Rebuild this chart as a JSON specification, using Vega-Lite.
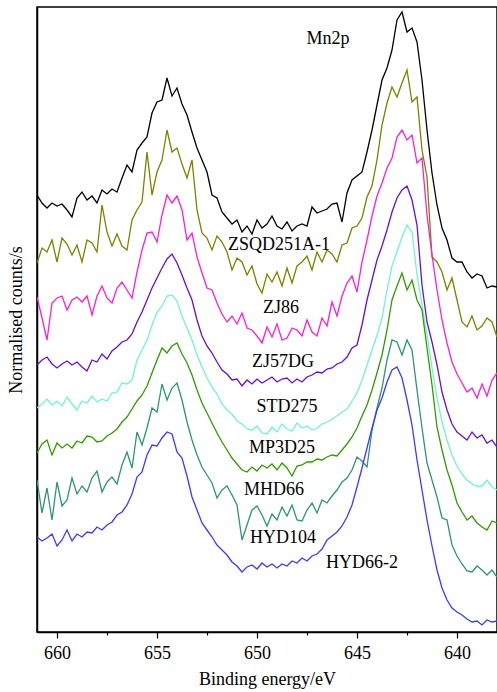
{
"$schema": "https://vega.github.io/schema/vega-lite/v6.json",
"width": 460, "height": 625,
"autosize": {"type": "none"},
"padding": {"left": 37, "top": 7, "right": 0, "bottom": 60},
"background": "white",
"config": {"view": {"stroke": "black", "strokeWidth": 1.5}, "font": "Liberation Serif"},
"datasets": {
"spectra": [
{"s":"ZSQD251A-1","e":661,"c":437},{"s":"ZSQD251A-1","e":660.75,"c":429},{"s":"ZSQD251A-1","e":660.5,"c":424},{"s":"ZSQD251A-1","e":660.25,"c":429},{"s":"ZSQD251A-1","e":660,"c":426},{"s":"ZSQD251A-1","e":659.75,"c":428},{"s":"ZSQD251A-1","e":659.5,"c":422},{"s":"ZSQD251A-1","e":659.25,"c":415},{"s":"ZSQD251A-1","e":659,"c":434},{"s":"ZSQD251A-1","e":658.75,"c":440},
{"s":"ZSQD251A-1","e":658.5,"c":432},{"s":"ZSQD251A-1","e":658.25,"c":436},{"s":"ZSQD251A-1","e":658,"c":429},{"s":"ZSQD251A-1","e":657.75,"c":442},{"s":"ZSQD251A-1","e":657.5,"c":438},{"s":"ZSQD251A-1","e":657.25,"c":443},{"s":"ZSQD251A-1","e":657,"c":440},{"s":"ZSQD251A-1","e":656.75,"c":454},{"s":"ZSQD251A-1","e":656.5,"c":467},{"s":"ZSQD251A-1","e":656.25,"c":460},
{"s":"ZSQD251A-1","e":656,"c":482},{"s":"ZSQD251A-1","e":655.75,"c":489},{"s":"ZSQD251A-1","e":655.5,"c":495},{"s":"ZSQD251A-1","e":655.25,"c":519},{"s":"ZSQD251A-1","e":655,"c":530},{"s":"ZSQD251A-1","e":654.75,"c":532},{"s":"ZSQD251A-1","e":654.5,"c":554},{"s":"ZSQD251A-1","e":654.25,"c":536},{"s":"ZSQD251A-1","e":654,"c":544},{"s":"ZSQD251A-1","e":653.75,"c":528},
{"s":"ZSQD251A-1","e":653.5,"c":517},{"s":"ZSQD251A-1","e":653.25,"c":500},{"s":"ZSQD251A-1","e":653,"c":484},{"s":"ZSQD251A-1","e":652.75,"c":472},{"s":"ZSQD251A-1","e":652.5,"c":460},{"s":"ZSQD251A-1","e":652.25,"c":437},{"s":"ZSQD251A-1","e":652,"c":434},{"s":"ZSQD251A-1","e":651.75,"c":420},{"s":"ZSQD251A-1","e":651.5,"c":414},{"s":"ZSQD251A-1","e":651.25,"c":408},
{"s":"ZSQD251A-1","e":651,"c":412},{"s":"ZSQD251A-1","e":650.75,"c":400},{"s":"ZSQD251A-1","e":650.5,"c":406},{"s":"ZSQD251A-1","e":650.25,"c":398},{"s":"ZSQD251A-1","e":650,"c":412},{"s":"ZSQD251A-1","e":649.75,"c":404},{"s":"ZSQD251A-1","e":649.5,"c":408},{"s":"ZSQD251A-1","e":649.25,"c":416},{"s":"ZSQD251A-1","e":649,"c":406},{"s":"ZSQD251A-1","e":648.75,"c":403},
{"s":"ZSQD251A-1","e":648.5,"c":410},{"s":"ZSQD251A-1","e":648.25,"c":401},{"s":"ZSQD251A-1","e":648,"c":406},{"s":"ZSQD251A-1","e":647.75,"c":408},{"s":"ZSQD251A-1","e":647.5,"c":406},{"s":"ZSQD251A-1","e":647.25,"c":425},{"s":"ZSQD251A-1","e":647,"c":419},{"s":"ZSQD251A-1","e":646.75,"c":421},{"s":"ZSQD251A-1","e":646.5,"c":423},{"s":"ZSQD251A-1","e":646.25,"c":428},
{"s":"ZSQD251A-1","e":646,"c":429},{"s":"ZSQD251A-1","e":645.75,"c":410},{"s":"ZSQD251A-1","e":645.5,"c":439},{"s":"ZSQD251A-1","e":645.25,"c":452},{"s":"ZSQD251A-1","e":645,"c":456},{"s":"ZSQD251A-1","e":644.75,"c":460},{"s":"ZSQD251A-1","e":644.5,"c":480},{"s":"ZSQD251A-1","e":644.25,"c":502},{"s":"ZSQD251A-1","e":644,"c":527},{"s":"ZSQD251A-1","e":643.75,"c":552},
{"s":"ZSQD251A-1","e":643.5,"c":564},{"s":"ZSQD251A-1","e":643.25,"c":582},{"s":"ZSQD251A-1","e":643,"c":612},{"s":"ZSQD251A-1","e":642.75,"c":620},{"s":"ZSQD251A-1","e":642.5,"c":600},{"s":"ZSQD251A-1","e":642.25,"c":604},{"s":"ZSQD251A-1","e":642,"c":590},{"s":"ZSQD251A-1","e":641.75,"c":552},{"s":"ZSQD251A-1","e":641.5,"c":502},{"s":"ZSQD251A-1","e":641.25,"c":459},
{"s":"ZSQD251A-1","e":641,"c":427},{"s":"ZSQD251A-1","e":640.75,"c":404},{"s":"ZSQD251A-1","e":640.5,"c":392},{"s":"ZSQD251A-1","e":640.25,"c":374},{"s":"ZSQD251A-1","e":640,"c":370},{"s":"ZSQD251A-1","e":639.75,"c":370},{"s":"ZSQD251A-1","e":639.5,"c":360},{"s":"ZSQD251A-1","e":639.25,"c":354},{"s":"ZSQD251A-1","e":639,"c":358},{"s":"ZSQD251A-1","e":638.75,"c":356},
{"s":"ZSQD251A-1","e":638.5,"c":344},{"s":"ZSQD251A-1","e":638.25,"c":346},{"s":"ZSQD251A-1","e":638,"c":345},

{"s":"ZJ86","e":661,"c":369},{"s":"ZJ86","e":660.75,"c":384},{"s":"ZJ86","e":660.5,"c":380},{"s":"ZJ86","e":660.25,"c":392},{"s":"ZJ86","e":660,"c":370},{"s":"ZJ86","e":659.75,"c":394},{"s":"ZJ86","e":659.5,"c":388},{"s":"ZJ86","e":659.25,"c":377},{"s":"ZJ86","e":659,"c":387},{"s":"ZJ86","e":658.75,"c":370},
{"s":"ZJ86","e":658.5,"c":392},{"s":"ZJ86","e":658.25,"c":389},{"s":"ZJ86","e":658,"c":380},{"s":"ZJ86","e":657.75,"c":427},{"s":"ZJ86","e":657.5,"c":400},{"s":"ZJ86","e":657.25,"c":386},{"s":"ZJ86","e":657,"c":398},{"s":"ZJ86","e":656.75,"c":386},{"s":"ZJ86","e":656.5,"c":382},{"s":"ZJ86","e":656.25,"c":412},
{"s":"ZJ86","e":656,"c":422},{"s":"ZJ86","e":655.75,"c":430},{"s":"ZJ86","e":655.5,"c":480},{"s":"ZJ86","e":655.25,"c":437},{"s":"ZJ86","e":655,"c":460},{"s":"ZJ86","e":654.75,"c":472},{"s":"ZJ86","e":654.5,"c":502},{"s":"ZJ86","e":654.25,"c":480},{"s":"ZJ86","e":654,"c":484},{"s":"ZJ86","e":653.75,"c":468},
{"s":"ZJ86","e":653.5,"c":454},{"s":"ZJ86","e":653.25,"c":472},{"s":"ZJ86","e":653,"c":422},{"s":"ZJ86","e":652.75,"c":399},{"s":"ZJ86","e":652.5,"c":394},{"s":"ZJ86","e":652.25,"c":382},{"s":"ZJ86","e":652,"c":396},{"s":"ZJ86","e":651.75,"c":390},{"s":"ZJ86","e":651.5,"c":380},{"s":"ZJ86","e":651.25,"c":362},
{"s":"ZJ86","e":651,"c":374},{"s":"ZJ86","e":650.75,"c":370},{"s":"ZJ86","e":650.5,"c":357},{"s":"ZJ86","e":650.25,"c":366},{"s":"ZJ86","e":650,"c":348},{"s":"ZJ86","e":649.75,"c":339},{"s":"ZJ86","e":649.5,"c":358},{"s":"ZJ86","e":649.25,"c":350},{"s":"ZJ86","e":649,"c":360},{"s":"ZJ86","e":648.75,"c":346},
{"s":"ZJ86","e":648.5,"c":364},{"s":"ZJ86","e":648.25,"c":349},{"s":"ZJ86","e":648,"c":366},{"s":"ZJ86","e":647.75,"c":370},{"s":"ZJ86","e":647.5,"c":376},{"s":"ZJ86","e":647.25,"c":362},{"s":"ZJ86","e":647,"c":380},{"s":"ZJ86","e":646.75,"c":370},{"s":"ZJ86","e":646.5,"c":382},{"s":"ZJ86","e":646.25,"c":378},
{"s":"ZJ86","e":646,"c":370},{"s":"ZJ86","e":645.75,"c":387},{"s":"ZJ86","e":645.5,"c":389},{"s":"ZJ86","e":645.25,"c":404},{"s":"ZJ86","e":645,"c":406},{"s":"ZJ86","e":644.75,"c":414},{"s":"ZJ86","e":644.5,"c":435},{"s":"ZJ86","e":644.25,"c":446},{"s":"ZJ86","e":644,"c":472},{"s":"ZJ86","e":643.75,"c":507},
{"s":"ZJ86","e":643.5,"c":529},{"s":"ZJ86","e":643.25,"c":545},{"s":"ZJ86","e":643,"c":535},{"s":"ZJ86","e":642.75,"c":549},{"s":"ZJ86","e":642.5,"c":562},{"s":"ZJ86","e":642.25,"c":530},{"s":"ZJ86","e":642,"c":535},{"s":"ZJ86","e":641.75,"c":482},{"s":"ZJ86","e":641.5,"c":455},{"s":"ZJ86","e":641.25,"c":375},
{"s":"ZJ86","e":641,"c":370},{"s":"ZJ86","e":640.75,"c":360},{"s":"ZJ86","e":640.5,"c":342},{"s":"ZJ86","e":640.25,"c":354},{"s":"ZJ86","e":640,"c":332},{"s":"ZJ86","e":639.75,"c":310},{"s":"ZJ86","e":639.5,"c":305},{"s":"ZJ86","e":639.25,"c":316},{"s":"ZJ86","e":639,"c":302},{"s":"ZJ86","e":638.75,"c":306},
{"s":"ZJ86","e":638.5,"c":314},{"s":"ZJ86","e":638.25,"c":310},{"s":"ZJ86","e":638,"c":295},

{"s":"ZJ57DG","e":661,"c":335},{"s":"ZJ57DG","e":660.75,"c":314},{"s":"ZJ57DG","e":660.5,"c":292},{"s":"ZJ57DG","e":660.25,"c":329},{"s":"ZJ57DG","e":660,"c":334},{"s":"ZJ57DG","e":659.75,"c":336},{"s":"ZJ57DG","e":659.5,"c":322},{"s":"ZJ57DG","e":659.25,"c":332},{"s":"ZJ57DG","e":659,"c":335},{"s":"ZJ57DG","e":658.75,"c":330},
{"s":"ZJ57DG","e":658.5,"c":336},{"s":"ZJ57DG","e":658.25,"c":317},{"s":"ZJ57DG","e":658,"c":336},{"s":"ZJ57DG","e":657.75,"c":346},{"s":"ZJ57DG","e":657.5,"c":334},{"s":"ZJ57DG","e":657.25,"c":329},{"s":"ZJ57DG","e":657,"c":344},{"s":"ZJ57DG","e":656.75,"c":350},{"s":"ZJ57DG","e":656.5,"c":342},{"s":"ZJ57DG","e":656.25,"c":334},
{"s":"ZJ57DG","e":656,"c":360},{"s":"ZJ57DG","e":655.75,"c":382},{"s":"ZJ57DG","e":655.5,"c":399},{"s":"ZJ57DG","e":655.25,"c":400},{"s":"ZJ57DG","e":655,"c":390},{"s":"ZJ57DG","e":654.75,"c":417},{"s":"ZJ57DG","e":654.5,"c":437},{"s":"ZJ57DG","e":654.25,"c":429},{"s":"ZJ57DG","e":654,"c":436},{"s":"ZJ57DG","e":653.75,"c":422},
{"s":"ZJ57DG","e":653.5,"c":392},{"s":"ZJ57DG","e":653.25,"c":399},{"s":"ZJ57DG","e":653,"c":375},{"s":"ZJ57DG","e":652.75,"c":359},{"s":"ZJ57DG","e":652.5,"c":344},{"s":"ZJ57DG","e":652.25,"c":342},{"s":"ZJ57DG","e":652,"c":329},{"s":"ZJ57DG","e":651.75,"c":318},{"s":"ZJ57DG","e":651.5,"c":310},{"s":"ZJ57DG","e":651.25,"c":316},
{"s":"ZJ57DG","e":651,"c":308},{"s":"ZJ57DG","e":650.75,"c":319},{"s":"ZJ57DG","e":650.5,"c":304},{"s":"ZJ57DG","e":650.25,"c":302},{"s":"ZJ57DG","e":650,"c":296},{"s":"ZJ57DG","e":649.75,"c":289},{"s":"ZJ57DG","e":649.5,"c":305},{"s":"ZJ57DG","e":649.25,"c":295},{"s":"ZJ57DG","e":649,"c":308},{"s":"ZJ57DG","e":648.75,"c":292},
{"s":"ZJ57DG","e":648.5,"c":294},{"s":"ZJ57DG","e":648.25,"c":304},{"s":"ZJ57DG","e":648,"c":302},{"s":"ZJ57DG","e":647.75,"c":296},{"s":"ZJ57DG","e":647.5,"c":312},{"s":"ZJ57DG","e":647.25,"c":300},{"s":"ZJ57DG","e":647,"c":296},{"s":"ZJ57DG","e":646.75,"c":314},{"s":"ZJ57DG","e":646.5,"c":306},{"s":"ZJ57DG","e":646.25,"c":330},
{"s":"ZJ57DG","e":646,"c":316},{"s":"ZJ57DG","e":645.75,"c":336},{"s":"ZJ57DG","e":645.5,"c":349},{"s":"ZJ57DG","e":645.25,"c":356},{"s":"ZJ57DG","e":645,"c":340},{"s":"ZJ57DG","e":644.75,"c":370},{"s":"ZJ57DG","e":644.5,"c":392},{"s":"ZJ57DG","e":644.25,"c":416},{"s":"ZJ57DG","e":644,"c":436},{"s":"ZJ57DG","e":643.75,"c":449},
{"s":"ZJ57DG","e":643.5,"c":464},{"s":"ZJ57DG","e":643.25,"c":474},{"s":"ZJ57DG","e":643,"c":495},{"s":"ZJ57DG","e":642.75,"c":502},{"s":"ZJ57DG","e":642.5,"c":492},{"s":"ZJ57DG","e":642.25,"c":497},{"s":"ZJ57DG","e":642,"c":469},{"s":"ZJ57DG","e":641.75,"c":474},{"s":"ZJ57DG","e":641.5,"c":417},{"s":"ZJ57DG","e":641.25,"c":377},
{"s":"ZJ57DG","e":641,"c":342},{"s":"ZJ57DG","e":640.75,"c":312},{"s":"ZJ57DG","e":640.5,"c":289},{"s":"ZJ57DG","e":640.25,"c":270},{"s":"ZJ57DG","e":640,"c":258},{"s":"ZJ57DG","e":639.75,"c":249},{"s":"ZJ57DG","e":639.5,"c":240},{"s":"ZJ57DG","e":639.25,"c":244},{"s":"ZJ57DG","e":639,"c":234},{"s":"ZJ57DG","e":638.75,"c":248},
{"s":"ZJ57DG","e":638.5,"c":236},{"s":"ZJ57DG","e":638.25,"c":252},{"s":"ZJ57DG","e":638,"c":259},

{"s":"STD275","e":661,"c":267},{"s":"STD275","e":660.75,"c":272},{"s":"STD275","e":660.5,"c":275},{"s":"STD275","e":660.25,"c":268},{"s":"STD275","e":660,"c":264},{"s":"STD275","e":659.75,"c":268},{"s":"STD275","e":659.5,"c":271},{"s":"STD275","e":659.25,"c":267},{"s":"STD275","e":659,"c":270},{"s":"STD275","e":658.75,"c":265},
{"s":"STD275","e":658.5,"c":261},{"s":"STD275","e":658.25,"c":272},{"s":"STD275","e":658,"c":270},{"s":"STD275","e":657.75,"c":278},{"s":"STD275","e":657.5,"c":273},{"s":"STD275","e":657.25,"c":281},{"s":"STD275","e":657,"c":285},{"s":"STD275","e":656.75,"c":290},{"s":"STD275","e":656.5,"c":292},{"s":"STD275","e":656.25,"c":298},
{"s":"STD275","e":656,"c":310},{"s":"STD275","e":655.75,"c":320},{"s":"STD275","e":655.5,"c":332},{"s":"STD275","e":655.25,"c":344},{"s":"STD275","e":655,"c":354},{"s":"STD275","e":654.75,"c":364},{"s":"STD275","e":654.5,"c":373},{"s":"STD275","e":654.25,"c":378},{"s":"STD275","e":654,"c":369},{"s":"STD275","e":653.75,"c":357},
{"s":"STD275","e":653.5,"c":344},{"s":"STD275","e":653.25,"c":332},{"s":"STD275","e":653,"c":312},{"s":"STD275","e":652.75,"c":296},{"s":"STD275","e":652.5,"c":286},{"s":"STD275","e":652.25,"c":279},{"s":"STD275","e":652,"c":270},{"s":"STD275","e":651.75,"c":262},{"s":"STD275","e":651.5,"c":258},{"s":"STD275","e":651.25,"c":252},
{"s":"STD275","e":651,"c":253},{"s":"STD275","e":650.75,"c":246},{"s":"STD275","e":650.5,"c":252},{"s":"STD275","e":650.25,"c":248},{"s":"STD275","e":650,"c":253},{"s":"STD275","e":649.75,"c":249},{"s":"STD275","e":649.5,"c":252},{"s":"STD275","e":649.25,"c":255},{"s":"STD275","e":649,"c":250},{"s":"STD275","e":648.75,"c":253},
{"s":"STD275","e":648.5,"c":254},{"s":"STD275","e":648.25,"c":249},{"s":"STD275","e":648,"c":253},{"s":"STD275","e":647.75,"c":250},{"s":"STD275","e":647.5,"c":255},{"s":"STD275","e":647.25,"c":257},{"s":"STD275","e":647,"c":260},{"s":"STD275","e":646.75,"c":259},{"s":"STD275","e":646.5,"c":263},{"s":"STD275","e":646.25,"c":264},
{"s":"STD275","e":646,"c":268},{"s":"STD275","e":645.75,"c":270},{"s":"STD275","e":645.5,"c":275},{"s":"STD275","e":645.25,"c":284},{"s":"STD275","e":645,"c":287},{"s":"STD275","e":644.75,"c":307},{"s":"STD275","e":644.5,"c":332},{"s":"STD275","e":644.25,"c":352},{"s":"STD275","e":644,"c":372},{"s":"STD275","e":643.75,"c":386},
{"s":"STD275","e":643.5,"c":402},{"s":"STD275","e":643.25,"c":420},{"s":"STD275","e":643,"c":434},{"s":"STD275","e":642.75,"c":442},{"s":"STD275","e":642.5,"c":446},{"s":"STD275","e":642.25,"c":432},{"s":"STD275","e":642,"c":407},{"s":"STD275","e":641.75,"c":347},{"s":"STD275","e":641.5,"c":310},{"s":"STD275","e":641.25,"c":290},
{"s":"STD275","e":641,"c":267},{"s":"STD275","e":640.75,"c":240},{"s":"STD275","e":640.5,"c":222},{"s":"STD275","e":640.25,"c":208},{"s":"STD275","e":640,"c":200},{"s":"STD275","e":639.75,"c":196},{"s":"STD275","e":639.5,"c":192},{"s":"STD275","e":639.25,"c":200},{"s":"STD275","e":639,"c":194},{"s":"STD275","e":638.75,"c":197},
{"s":"STD275","e":638.5,"c":189},{"s":"STD275","e":638.25,"c":192},{"s":"STD275","e":638,"c":185},

{"s":"MP3D25","e":661,"c":224},{"s":"MP3D25","e":660.75,"c":228},{"s":"MP3D25","e":660.5,"c":233},{"s":"MP3D25","e":660.25,"c":227},{"s":"MP3D25","e":660,"c":231},{"s":"MP3D25","e":659.75,"c":226},{"s":"MP3D25","e":659.5,"c":235},{"s":"MP3D25","e":659.25,"c":228},{"s":"MP3D25","e":659,"c":222},{"s":"MP3D25","e":658.75,"c":231},
{"s":"MP3D25","e":658.5,"c":229},{"s":"MP3D25","e":658.25,"c":236},{"s":"MP3D25","e":658,"c":230},{"s":"MP3D25","e":657.75,"c":233},{"s":"MP3D25","e":657.5,"c":231},{"s":"MP3D25","e":657.25,"c":239},{"s":"MP3D25","e":657,"c":240},{"s":"MP3D25","e":656.75,"c":249},{"s":"MP3D25","e":656.5,"c":248},{"s":"MP3D25","e":656.25,"c":252},
{"s":"MP3D25","e":656,"c":272},{"s":"MP3D25","e":655.75,"c":282},{"s":"MP3D25","e":655.5,"c":292},{"s":"MP3D25","e":655.25,"c":307},{"s":"MP3D25","e":655,"c":320},{"s":"MP3D25","e":654.75,"c":326},{"s":"MP3D25","e":654.5,"c":336},{"s":"MP3D25","e":654.25,"c":337},{"s":"MP3D25","e":654,"c":331},{"s":"MP3D25","e":653.75,"c":316},
{"s":"MP3D25","e":653.5,"c":304},{"s":"MP3D25","e":653.25,"c":292},{"s":"MP3D25","e":653,"c":277},{"s":"MP3D25","e":652.75,"c":265},{"s":"MP3D25","e":652.5,"c":254},{"s":"MP3D25","e":652.25,"c":245},{"s":"MP3D25","e":652,"c":238},{"s":"MP3D25","e":651.75,"c":228},{"s":"MP3D25","e":651.5,"c":222},{"s":"MP3D25","e":651.25,"c":218},
{"s":"MP3D25","e":651,"c":211},{"s":"MP3D25","e":650.75,"c":208},{"s":"MP3D25","e":650.5,"c":203},{"s":"MP3D25","e":650.25,"c":202},{"s":"MP3D25","e":650,"c":206},{"s":"MP3D25","e":649.75,"c":199},{"s":"MP3D25","e":649.5,"c":198},{"s":"MP3D25","e":649.25,"c":205},{"s":"MP3D25","e":649,"c":200},{"s":"MP3D25","e":648.75,"c":208},
{"s":"MP3D25","e":648.5,"c":203},{"s":"MP3D25","e":648.25,"c":201},{"s":"MP3D25","e":648,"c":209},{"s":"MP3D25","e":647.75,"c":204},{"s":"MP3D25","e":647.5,"c":206},{"s":"MP3D25","e":647.25,"c":202},{"s":"MP3D25","e":647,"c":204},{"s":"MP3D25","e":646.75,"c":208},{"s":"MP3D25","e":646.5,"c":210},{"s":"MP3D25","e":646.25,"c":213},
{"s":"MP3D25","e":646,"c":216},{"s":"MP3D25","e":645.75,"c":220},{"s":"MP3D25","e":645.5,"c":223},{"s":"MP3D25","e":645.25,"c":231},{"s":"MP3D25","e":645,"c":239},{"s":"MP3D25","e":644.75,"c":252},{"s":"MP3D25","e":644.5,"c":267},{"s":"MP3D25","e":644.25,"c":282},{"s":"MP3D25","e":644,"c":297},{"s":"MP3D25","e":643.75,"c":314},
{"s":"MP3D25","e":643.5,"c":342},{"s":"MP3D25","e":643.25,"c":366},{"s":"MP3D25","e":643,"c":380},{"s":"MP3D25","e":642.75,"c":395},{"s":"MP3D25","e":642.5,"c":407},{"s":"MP3D25","e":642.25,"c":400},{"s":"MP3D25","e":642,"c":357},{"s":"MP3D25","e":641.75,"c":327},{"s":"MP3D25","e":641.5,"c":297},{"s":"MP3D25","e":641.25,"c":264},
{"s":"MP3D25","e":641,"c":234},{"s":"MP3D25","e":640.75,"c":210},{"s":"MP3D25","e":640.5,"c":192},{"s":"MP3D25","e":640.25,"c":177},{"s":"MP3D25","e":640,"c":166},{"s":"MP3D25","e":639.75,"c":158},{"s":"MP3D25","e":639.5,"c":152},{"s":"MP3D25","e":639.25,"c":148},{"s":"MP3D25","e":639,"c":146},{"s":"MP3D25","e":638.75,"c":146},
{"s":"MP3D25","e":638.5,"c":152},{"s":"MP3D25","e":638.25,"c":145},{"s":"MP3D25","e":638,"c":142},

{"s":"MHD66","e":661,"c":179},{"s":"MHD66","e":660.75,"c":188},{"s":"MHD66","e":660.5,"c":192},{"s":"MHD66","e":660.25,"c":177},{"s":"MHD66","e":660,"c":189},{"s":"MHD66","e":659.75,"c":184},{"s":"MHD66","e":659.5,"c":188},{"s":"MHD66","e":659.25,"c":184},{"s":"MHD66","e":659,"c":191},{"s":"MHD66","e":658.75,"c":189},
{"s":"MHD66","e":658.5,"c":196},{"s":"MHD66","e":658.25,"c":195},{"s":"MHD66","e":658,"c":190},{"s":"MHD66","e":657.75,"c":191},{"s":"MHD66","e":657.5,"c":196},{"s":"MHD66","e":657.25,"c":199},{"s":"MHD66","e":657,"c":203},{"s":"MHD66","e":656.75,"c":210},{"s":"MHD66","e":656.5,"c":215},{"s":"MHD66","e":656.25,"c":223},
{"s":"MHD66","e":656,"c":231},{"s":"MHD66","e":655.75,"c":237},{"s":"MHD66","e":655.5,"c":246},{"s":"MHD66","e":655.25,"c":259},{"s":"MHD66","e":655,"c":272},{"s":"MHD66","e":654.75,"c":284},{"s":"MHD66","e":654.5,"c":279},{"s":"MHD66","e":654.25,"c":286},{"s":"MHD66","e":654,"c":289},{"s":"MHD66","e":653.75,"c":278},
{"s":"MHD66","e":653.5,"c":269},{"s":"MHD66","e":653.25,"c":257},{"s":"MHD66","e":653,"c":242},{"s":"MHD66","e":652.75,"c":229},{"s":"MHD66","e":652.5,"c":219},{"s":"MHD66","e":652.25,"c":209},{"s":"MHD66","e":652,"c":199},{"s":"MHD66","e":651.75,"c":190},{"s":"MHD66","e":651.5,"c":182},{"s":"MHD66","e":651.25,"c":174},
{"s":"MHD66","e":651,"c":168},{"s":"MHD66","e":650.75,"c":162},{"s":"MHD66","e":650.5,"c":160},{"s":"MHD66","e":650.25,"c":165},{"s":"MHD66","e":650,"c":161},{"s":"MHD66","e":649.75,"c":167},{"s":"MHD66","e":649.5,"c":164},{"s":"MHD66","e":649.25,"c":168},{"s":"MHD66","e":649,"c":162},{"s":"MHD66","e":648.75,"c":169},
{"s":"MHD66","e":648.5,"c":164},{"s":"MHD66","e":648.25,"c":156},{"s":"MHD66","e":648,"c":166},{"s":"MHD66","e":647.75,"c":167},{"s":"MHD66","e":647.5,"c":170},{"s":"MHD66","e":647.25,"c":170},{"s":"MHD66","e":647,"c":173},{"s":"MHD66","e":646.75,"c":172},{"s":"MHD66","e":646.5,"c":175},{"s":"MHD66","e":646.25,"c":177},
{"s":"MHD66","e":646,"c":176},{"s":"MHD66","e":645.75,"c":182},{"s":"MHD66","e":645.5,"c":188},{"s":"MHD66","e":645.25,"c":195},{"s":"MHD66","e":645,"c":204},{"s":"MHD66","e":644.75,"c":216},{"s":"MHD66","e":644.5,"c":227},{"s":"MHD66","e":644.25,"c":242},{"s":"MHD66","e":644,"c":259},{"s":"MHD66","e":643.75,"c":277},
{"s":"MHD66","e":643.5,"c":302},{"s":"MHD66","e":643.25,"c":332},{"s":"MHD66","e":643,"c":346},{"s":"MHD66","e":642.75,"c":359},{"s":"MHD66","e":642.5,"c":342},{"s":"MHD66","e":642.25,"c":352},{"s":"MHD66","e":642,"c":332},{"s":"MHD66","e":641.75,"c":322},{"s":"MHD66","e":641.5,"c":284},{"s":"MHD66","e":641.25,"c":247},
{"s":"MHD66","e":641,"c":205},{"s":"MHD66","e":640.75,"c":182},{"s":"MHD66","e":640.5,"c":162},{"s":"MHD66","e":640.25,"c":147},{"s":"MHD66","e":640,"c":129},{"s":"MHD66","e":639.75,"c":120},{"s":"MHD66","e":639.5,"c":112},{"s":"MHD66","e":639.25,"c":116},{"s":"MHD66","e":639,"c":109},{"s":"MHD66","e":638.75,"c":105},
{"s":"MHD66","e":638.5,"c":102},{"s":"MHD66","e":638.25,"c":111},{"s":"MHD66","e":638,"c":109},

{"s":"HYD104","e":661,"c":152},{"s":"HYD104","e":660.75,"c":119},{"s":"HYD104","e":660.5,"c":144},{"s":"HYD104","e":660.25,"c":112},{"s":"HYD104","e":660,"c":150},{"s":"HYD104","e":659.75,"c":126},{"s":"HYD104","e":659.5,"c":132},{"s":"HYD104","e":659.25,"c":154},{"s":"HYD104","e":659,"c":138},{"s":"HYD104","e":658.75,"c":146},
{"s":"HYD104","e":658.5,"c":140},{"s":"HYD104","e":658.25,"c":154},{"s":"HYD104","e":658,"c":161},{"s":"HYD104","e":657.75,"c":140},{"s":"HYD104","e":657.5,"c":150},{"s":"HYD104","e":657.25,"c":155},{"s":"HYD104","e":657,"c":148},{"s":"HYD104","e":656.75,"c":167},{"s":"HYD104","e":656.5,"c":180},{"s":"HYD104","e":656.25,"c":164},
{"s":"HYD104","e":656,"c":200},{"s":"HYD104","e":655.75,"c":187},{"s":"HYD104","e":655.5,"c":204},{"s":"HYD104","e":655.25,"c":224},{"s":"HYD104","e":655,"c":220},{"s":"HYD104","e":654.75,"c":248},{"s":"HYD104","e":654.5,"c":232},{"s":"HYD104","e":654.25,"c":244},{"s":"HYD104","e":654,"c":249},{"s":"HYD104","e":653.75,"c":232},
{"s":"HYD104","e":653.5,"c":210},{"s":"HYD104","e":653.25,"c":192},{"s":"HYD104","e":653,"c":177},{"s":"HYD104","e":652.75,"c":165},{"s":"HYD104","e":652.5,"c":157},{"s":"HYD104","e":652.25,"c":149},{"s":"HYD104","e":652,"c":134},{"s":"HYD104","e":651.75,"c":142},{"s":"HYD104","e":651.5,"c":146},{"s":"HYD104","e":651.25,"c":137},
{"s":"HYD104","e":651,"c":127},{"s":"HYD104","e":650.75,"c":92},{"s":"HYD104","e":650.5,"c":107},{"s":"HYD104","e":650.25,"c":122},{"s":"HYD104","e":650,"c":126},{"s":"HYD104","e":649.75,"c":117},{"s":"HYD104","e":649.5,"c":106},{"s":"HYD104","e":649.25,"c":118},{"s":"HYD104","e":649,"c":112},{"s":"HYD104","e":648.75,"c":125},
{"s":"HYD104","e":648.5,"c":116},{"s":"HYD104","e":648.25,"c":127},{"s":"HYD104","e":648,"c":112},{"s":"HYD104","e":647.75,"c":111},{"s":"HYD104","e":647.5,"c":122},{"s":"HYD104","e":647.25,"c":129},{"s":"HYD104","e":647,"c":119},{"s":"HYD104","e":646.75,"c":132},{"s":"HYD104","e":646.5,"c":129},{"s":"HYD104","e":646.25,"c":136},
{"s":"HYD104","e":646,"c":142},{"s":"HYD104","e":645.75,"c":150},{"s":"HYD104","e":645.5,"c":154},{"s":"HYD104","e":645.25,"c":162},{"s":"HYD104","e":645,"c":175},{"s":"HYD104","e":644.75,"c":171},{"s":"HYD104","e":644.5,"c":165},{"s":"HYD104","e":644.25,"c":202},{"s":"HYD104","e":644,"c":224},{"s":"HYD104","e":643.75,"c":244},
{"s":"HYD104","e":643.5,"c":272},{"s":"HYD104","e":643.25,"c":292},{"s":"HYD104","e":643,"c":290},{"s":"HYD104","e":642.75,"c":277},{"s":"HYD104","e":642.5,"c":292},{"s":"HYD104","e":642.25,"c":282},{"s":"HYD104","e":642,"c":242},{"s":"HYD104","e":641.75,"c":204},{"s":"HYD104","e":641.5,"c":169},{"s":"HYD104","e":641.25,"c":152},
{"s":"HYD104","e":641,"c":135},{"s":"HYD104","e":640.75,"c":114},{"s":"HYD104","e":640.5,"c":112},{"s":"HYD104","e":640.25,"c":87},{"s":"HYD104","e":640,"c":76},{"s":"HYD104","e":639.75,"c":68},{"s":"HYD104","e":639.5,"c":61},{"s":"HYD104","e":639.25,"c":60},{"s":"HYD104","e":639,"c":66},{"s":"HYD104","e":638.75,"c":62},
{"s":"HYD104","e":638.5,"c":57},{"s":"HYD104","e":638.25,"c":62},{"s":"HYD104","e":638,"c":55},

{"s":"HYD66-2","e":661,"c":95},{"s":"HYD66-2","e":660.75,"c":91},{"s":"HYD66-2","e":660.5,"c":94},{"s":"HYD66-2","e":660.25,"c":98},{"s":"HYD66-2","e":660,"c":86},{"s":"HYD66-2","e":659.75,"c":92},{"s":"HYD66-2","e":659.5,"c":102},{"s":"HYD66-2","e":659.25,"c":91},{"s":"HYD66-2","e":659,"c":98},{"s":"HYD66-2","e":658.75,"c":95},
{"s":"HYD66-2","e":658.5,"c":100},{"s":"HYD66-2","e":658.25,"c":99},{"s":"HYD66-2","e":658,"c":105},{"s":"HYD66-2","e":657.75,"c":102},{"s":"HYD66-2","e":657.5,"c":107},{"s":"HYD66-2","e":657.25,"c":110},{"s":"HYD66-2","e":657,"c":117},{"s":"HYD66-2","e":656.75,"c":120},{"s":"HYD66-2","e":656.5,"c":127},{"s":"HYD66-2","e":656.25,"c":138},
{"s":"HYD66-2","e":656,"c":155},{"s":"HYD66-2","e":655.75,"c":160},{"s":"HYD66-2","e":655.5,"c":177},{"s":"HYD66-2","e":655.25,"c":187},{"s":"HYD66-2","e":655,"c":186},{"s":"HYD66-2","e":654.75,"c":194},{"s":"HYD66-2","e":654.5,"c":200},{"s":"HYD66-2","e":654.25,"c":198},{"s":"HYD66-2","e":654,"c":180},{"s":"HYD66-2","e":653.75,"c":174},
{"s":"HYD66-2","e":653.5,"c":156},{"s":"HYD66-2","e":653.25,"c":135},{"s":"HYD66-2","e":653,"c":122},{"s":"HYD66-2","e":652.75,"c":109},{"s":"HYD66-2","e":652.5,"c":102},{"s":"HYD66-2","e":652.25,"c":95},{"s":"HYD66-2","e":652,"c":87},{"s":"HYD66-2","e":651.75,"c":82},{"s":"HYD66-2","e":651.5,"c":77},{"s":"HYD66-2","e":651.25,"c":70},
{"s":"HYD66-2","e":651,"c":66},{"s":"HYD66-2","e":650.75,"c":60},{"s":"HYD66-2","e":650.5,"c":65},{"s":"HYD66-2","e":650.25,"c":67},{"s":"HYD66-2","e":650,"c":63},{"s":"HYD66-2","e":649.75,"c":69},{"s":"HYD66-2","e":649.5,"c":65},{"s":"HYD66-2","e":649.25,"c":68},{"s":"HYD66-2","e":649,"c":64},{"s":"HYD66-2","e":648.75,"c":68},
{"s":"HYD66-2","e":648.5,"c":66},{"s":"HYD66-2","e":648.25,"c":71},{"s":"HYD66-2","e":648,"c":69},{"s":"HYD66-2","e":647.75,"c":74},{"s":"HYD66-2","e":647.5,"c":71},{"s":"HYD66-2","e":647.25,"c":76},{"s":"HYD66-2","e":647,"c":78},{"s":"HYD66-2","e":646.75,"c":83},{"s":"HYD66-2","e":646.5,"c":92},{"s":"HYD66-2","e":646.25,"c":96},
{"s":"HYD66-2","e":646,"c":100},{"s":"HYD66-2","e":645.75,"c":106},{"s":"HYD66-2","e":645.5,"c":115},{"s":"HYD66-2","e":645.25,"c":127},{"s":"HYD66-2","e":645,"c":145},{"s":"HYD66-2","e":644.75,"c":164},{"s":"HYD66-2","e":644.5,"c":184},{"s":"HYD66-2","e":644.25,"c":204},{"s":"HYD66-2","e":644,"c":222},{"s":"HYD66-2","e":643.75,"c":234},
{"s":"HYD66-2","e":643.5,"c":250},{"s":"HYD66-2","e":643.25,"c":262},{"s":"HYD66-2","e":643,"c":265},{"s":"HYD66-2","e":642.75,"c":254},{"s":"HYD66-2","e":642.5,"c":232},{"s":"HYD66-2","e":642.25,"c":207},{"s":"HYD66-2","e":642,"c":172},{"s":"HYD66-2","e":641.75,"c":142},{"s":"HYD66-2","e":641.5,"c":112},{"s":"HYD66-2","e":641.25,"c":86},
{"s":"HYD66-2","e":641,"c":62},{"s":"HYD66-2","e":640.75,"c":44},{"s":"HYD66-2","e":640.5,"c":32},{"s":"HYD66-2","e":640.25,"c":24},{"s":"HYD66-2","e":640,"c":20},{"s":"HYD66-2","e":639.75,"c":17},{"s":"HYD66-2","e":639.5,"c":13},{"s":"HYD66-2","e":639.25,"c":10},{"s":"HYD66-2","e":639,"c":11},{"s":"HYD66-2","e":638.75,"c":7},
{"s":"HYD66-2","e":638.5,"c":12},{"s":"HYD66-2","e":638.25,"c":10},{"s":"HYD66-2","e":638,"c":11}
],
"labels": [
{"t":"Mn2p","e":646.45,"c":593},
{"t":"ZSQD251A-1","e":648.9,"c":387},
{"t":"ZJ86","e":648.8,"c":324},
{"t":"ZJ57DG","e":648.7,"c":270},
{"t":"STD275","e":648.5,"c":225},
{"t":"MP3D25","e":648.75,"c":184},
{"t":"MHD66","e":649.15,"c":142},
{"t":"HYD104","e":648.7,"c":94},
{"t":"HYD66-2","e":644.75,"c":69}
]
},
"layer": [
{
"data": {"name": "spectra"},
"mark": {"type": "line", "strokeWidth": 1.3, "clip": true},
"encoding": {
"x": {"field": "e", "type": "quantitative",
 "scale": {"domain": [638, 661], "reverse": true, "nice": false, "zero": false},
 "axis": {"title": "Binding energy/eV", "titleFont": "Liberation Serif", "titleFontSize": 18, "titleFontWeight": "normal", "titleColor": "black", "titlePadding": 8,
  "values": [660, 657.5, 655, 652.5, 650, 647.5, 645, 642.5, 640],
  "labelExpr": "datum.value % 5 === 0 ? datum.label : ''",
  "labelFont": "Liberation Serif", "labelFontSize": 18, "labelColor": "black", "labelPadding": 6, "labelOverlap": false, "labelFlush": false,
  "tickColor": "black", "tickWidth": 1.2,
  "tickSize": {"condition": {"test": "datum.value % 5 === 0", "value": 6}, "value": 3},
  "domainColor": "black", "domainWidth": 1.5, "grid": false}},
"y": {"field": "c", "type": "quantitative",
 "scale": {"domain": [0, 625], "nice": false, "zero": false},
 "axis": {"title": "Normalised counts/s", "titleFont": "Liberation Serif", "titleFontSize": 18, "titleFontWeight": "normal", "titleColor": "black", "titlePadding": 12,
  "labels": false, "ticks": false, "grid": false, "domainColor": "black", "domainWidth": 1.5}},
"color": {"field": "s", "type": "nominal", "legend": null,
 "scale": {"domain": ["ZSQD251A-1", "ZJ86", "ZJ57DG", "STD275", "MP3D25", "MHD66", "HYD104", "HYD66-2"],
  "range": ["#000000", "#808000", "#ff1fce", "#6610d0", "#70f5d0", "#339900", "#2e9478", "#3b3bff"]}}
}
},
{
"data": {"name": "labels"},
"mark": {"type": "text", "font": "Liberation Serif", "fontSize": 18, "color": "black", "align": "center", "baseline": "middle"},
"encoding": {
"x": {"field": "e", "type": "quantitative"},
"y": {"field": "c", "type": "quantitative"},
"text": {"field": "t"}
}
}
]
}
